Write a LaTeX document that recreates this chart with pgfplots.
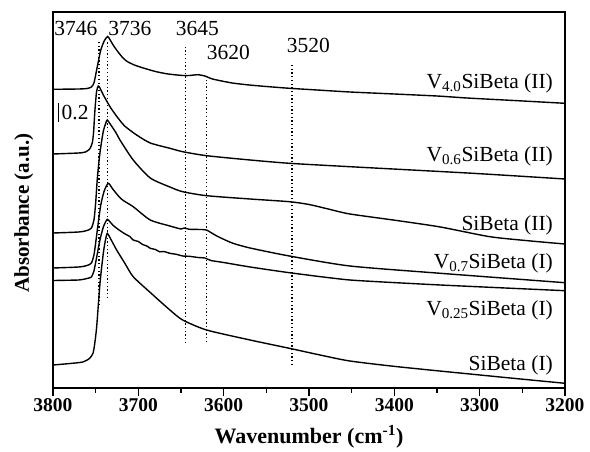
\documentclass[border=0pt]{standalone}
\usepackage{pgfplots}
\pgfplotsset{compat=1.18}
\usepackage{fontspec}
\setmainfont{Liberation Serif}
\begin{document}
\begin{tikzpicture}
\begin{axis}[
  scale only axis, width=512bp, height=376bp,
  x dir=reverse, xmin=3200, xmax=3800, ymin=0, ymax=376,
  axis line style={line width=1.2pt},
  ytick=\empty,
  xtick={3200,3300,...,3800}, minor x tick num=1,
  xtick pos=lower, tick align=outside,
  major tick length=8bp, minor tick length=4.5bp,
  every tick/.style={line width=1.1pt, black},
  /pgf/number format/assume math mode=true,
  /pgf/number format/1000 sep={},
  xticklabel style={font=\fontsize{19.5bp}{22bp}\selectfont\bfseries, inner sep=2pt},
  xlabel={Wavenumber (cm\textsuperscript{-1})},
  xlabel style={font=\fontsize{22bp}{26bp}\selectfont\bfseries, at={(axis description cs:0.5,-0.13)}, anchor=center},
  ylabel={Absorbance (a.u.)},
  ylabel style={font=\fontsize{21bp}{25bp}\selectfont\bfseries, at={(axis description cs:-0.057,0.465)}, anchor=center, rotate=0},
  clip=false,
  curve/.style={black, solid, line width=1.4pt, mark=none, smooth, tension=0.4},
  dotline/.style={black, line width=1.3pt, mark=none, dash pattern=on 1.3pt off 2.4pt},
]
% dotted marker lines
\addplot[dotline] coordinates {(3746,83) (3746,348)};
\addplot[dotline] coordinates {(3736,90) (3736,346)};
\addplot[dotline] coordinates {(3645,45) (3645,343)};
\addplot[dotline] coordinates {(3620,46) (3620,308)};
\addplot[dotline] coordinates {(3520,23) (3520,323)};
% scale bar
\addplot[black, solid, mark=none, line width=1.3pt] coordinates {(3793.8,266.3) (3793.8,285)};
% V4.0SiBeta (II)
\addplot[curve] table {
3800 298.7
3770 299
3760 299.5
3755 301
3752 305
3750 313
3747 326
3744 338
3740 347
3736 351.5
3733 348
3728 341
3720 332
3714 327
3706 323.5
3698 321
3680 316.5
3665 314
3648 312.5
3640 312.5
3630 313.3
3622 312
3615 309.5
3608 308
3590 305
3570 303
3550 301.5
3523 299.7
3500 298.5
3452 296
3413 294.5
3350 292
3315 290
3260 287.5
3200 284.7
};
% V0.6SiBeta (II)
\addplot[curve] table {
3800 234
3770 235
3762 236
3757 239
3754 245
3752.5 255
3751 276
3749 296
3747 302
3745 300
3741 293
3733 281
3725 271.3
3716 262
3702 253
3686 245
3663 239.7
3648 236.3
3620 232.3
3569 228
3523 224.7
3452 221.3
3308 214.7
3200 209
};
% SiBeta (II)
\addplot[curve] table {
3800 155
3770 156
3760 157.5
3755 160
3752 168
3750 185
3748 210
3745 235
3741 257
3738 265
3736.4 268
3733 264
3726 255
3721.5 248
3706 228
3686 210
3663 201
3648 196.3
3620 192.3
3569 189
3523 186.3
3500 183.5
3475 178.5
3452 174
3393 167
3346 161
3288 151.3
3240 147
3200 144
};
% V0.7SiBeta (I)
\addplot[curve] table {
3800 120
3770 121
3760 122.5
3755 125
3752 133
3750 145
3747 165
3744 183
3740 197
3735.2 204.7
3730 199
3720 189
3706 181.3
3686 168
3663 162
3650 159
3646 160
3640 158.7
3625 158.5
3620 158
3608 152
3590 145
3569 140
3523 132
3452 122
3346 114.7
3200 105.3
};
% V0.25SiBeta (I)
\addplot[curve, tension=0.3] table {
3800 107.5
3770 108
3760 109.5
3755 111
3752 117
3749 130
3745 148
3741 161
3736.4 168.7
3730 163
3725 159.5
3720 156.5
3715 153.8
3710 151.5
3706 148
3700 146.5
3695 143.5
3690 142
3686 139.7
3680 138.5
3675 136.2
3670 136.5
3663 134.7
3655 133.6
3648 132
3640 131.7
3630 130.5
3622 130
3615 127.5
3600 125.5
3569 121
3523 115.3
3452 108
3346 103
3200 97.3
};
% SiBeta (I)
\addplot[curve] table {
3800 23
3780 24.5
3765 26
3757 29.7
3753 35
3751 45
3748.8 61.3
3744.9 105
3741 135
3738.5 148
3736.4 154.7
3733 150
3725.4 138
3716 125
3706 111.3
3686 95.5
3663 78
3648 68
3620 58
3569 48
3523 39.7
3487 33
3452 27
3393 21
3276 11
3200 4.7
};
% labels
\begin{scope}[every node/.style={font=\fontsize{21.5bp}{24bp}\selectfont, inner sep=0pt}]
\node[anchor=base] at (axis cs:3773.3,352) {3746};
\node[anchor=base] at (axis cs:3709.8,352) {3736};
\node[anchor=base] at (axis cs:3630.7,352) {3645};
\node[anchor=base] at (axis cs:3594.6,328) {3620};
\node[anchor=base] at (axis cs:3500.8,335) {3520};
\node[anchor=west] at (axis cs:3790,275.5) {0.2};
\node[anchor=base east] at (axis cs:3214,299.7) {V\textsubscript{4.0}SiBeta (II)};
\node[anchor=base east] at (axis cs:3214,226.3) {V\textsubscript{0.6}SiBeta (II)};
\node[anchor=base east] at (axis cs:3214,158) {SiBeta (II)};
\node[anchor=base east] at (axis cs:3214,119.7) {V\textsubscript{0.7}SiBeta (I)};
\node[anchor=base east] at (axis cs:3214,73) {V\textsubscript{0.25}SiBeta (I)};
\node[anchor=base east] at (axis cs:3214,18) {SiBeta (I)};
\end{scope}
\end{axis}
\path (current axis.south west) ++(-53bp,-63bp) rectangle ++(590bp,451bp);
\end{tikzpicture}
\end{document}
